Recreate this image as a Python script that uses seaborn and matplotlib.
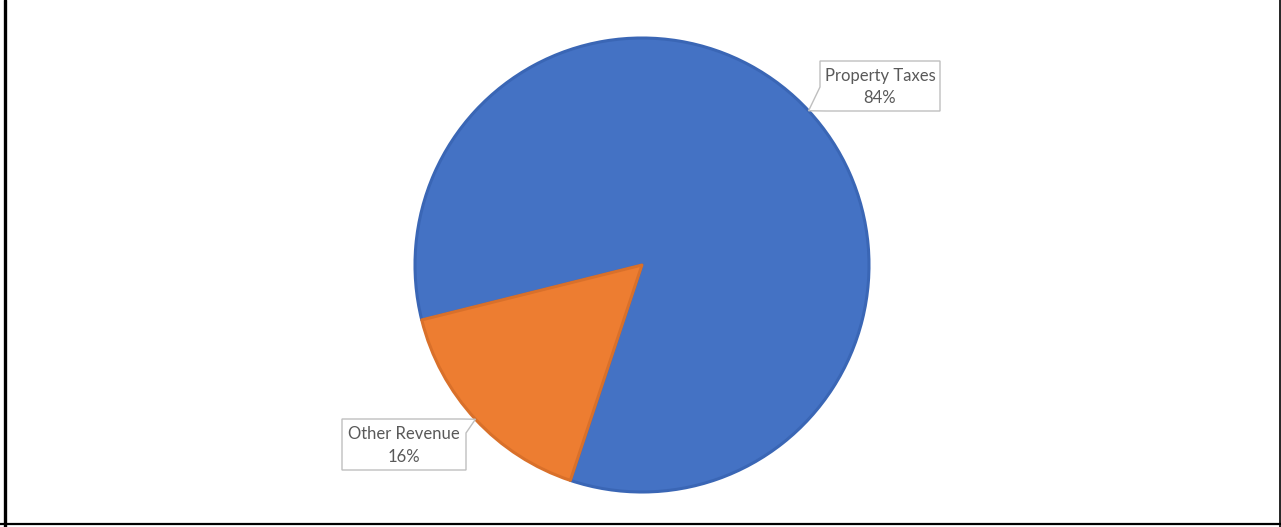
import numpy as np
import matplotlib
matplotlib.use("Agg")
import matplotlib.pyplot as plt
from matplotlib.patches import Polygon
from matplotlib.lines import Line2D
import seaborn as sns

# Revenue breakdown
categories = ["Property Taxes", "Other Revenue"]
shares = [84, 16]
slice_colors = ["#4472C4", "#ED7D31"]
edge_colors = ["#3A66B5", "#D9702A"]

sns.set_theme(style="white")
plt.rcParams["font.family"] = ["Lato", "DejaVu Sans"]

W, H, DPI = 1281, 527, 100
fig = plt.figure(figsize=(W / DPI, H / DPI), dpi=DPI)
fig.patch.set_facecolor("white")
ax = fig.add_axes([0, 0, 1, 1])

# pie geometry in pixels
cx, cy, r_px = 642, 265, 227

wedges, _ = ax.pie(shares, colors=slice_colors, startangle=194,
                   counterclock=False, radius=1.0,
                   wedgeprops=dict(linewidth=2.2, joinstyle="round"))
for w, ec in zip(wedges, edge_colors):
    w.set_edgecolor(ec)
ax.set_xlim(-cx / r_px, (W - cx) / r_px)
ax.set_ylim(-(H - cy) / r_px, cy / r_px)
ax.set_aspect("equal", adjustable="box")
ax.axis("off")


def px(x, y):
    return ((x - cx) / r_px, (cy - y) / r_px)


# callout boxes: (left, top, right, bottom) in pixels, and tail attachment side
boxes = [
    dict(rect=(820, 61, 940, 111), side="left"),
    dict(rect=(342, 419, 466, 470), side="right"),
]

for w, cat, val, b in zip(wedges, categories, shares, boxes):
    mid = np.deg2rad((w.theta1 + w.theta2) / 2)
    tip = (np.cos(mid), np.sin(mid))
    l, t, rr, bt = b["rect"]
    if b["side"] == "left":
        pts = [px(l, t), px(rr, t), px(rr, bt), px(l + 6, bt), tip,
               px(l, t + 26)]
    else:
        pts = [px(l, t), px(rr - 4, t), tip, px(rr, t + 14),
               px(rr, bt), px(l, bt)]
    ax.add_patch(Polygon(pts, closed=True, facecolor="white",
                         edgecolor="#BFBFBF", linewidth=1.0, zorder=5))
    tx, ty = px((l + rr) / 2, (t + bt) / 2 + 1)
    ax.text(tx, ty, f"{cat}\n{val}%", ha="center", va="center",
            fontsize=12, color="#595959", linespacing=1.5, zorder=6)

# frame lines along left, right and bottom
fig.add_artist(Line2D([4.5 / W, 4.5 / W], [0, 1], color="black", lw=2.4,
                      transform=fig.transFigure))
fig.add_artist(Line2D([1280 / W, 1280 / W], [0, 1], color="black", lw=1.2,
                      transform=fig.transFigure))
fig.add_artist(Line2D([0, 1], [(H - 524) / H, (H - 524) / H], color="black",
                      lw=1.6, transform=fig.transFigure))

fig.savefig("out.png", dpi=DPI, facecolor="white")
